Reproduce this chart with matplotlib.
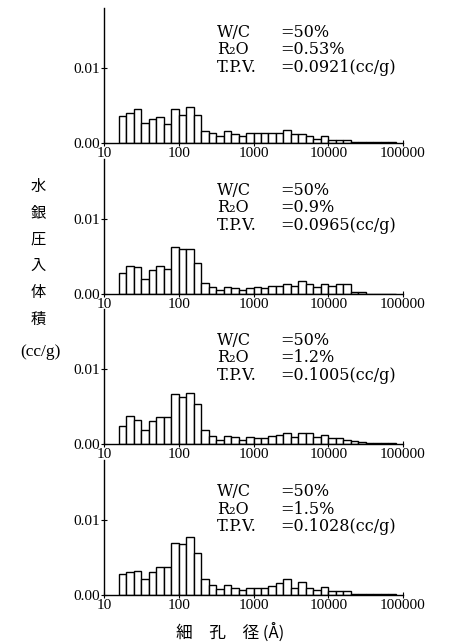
import numpy as np
import matplotlib.pyplot as plt

vol_r053 = [0.0036, 0.0040, 0.0045, 0.0027, 0.0032, 0.0035, 0.0026, 0.0046, 0.0038, 0.0048,
            0.0037, 0.0016, 0.0013, 0.0010, 0.0016, 0.0012, 0.0009, 0.0014, 0.0014, 0.0013,
            0.0013, 0.0013, 0.0018, 0.0012, 0.0012, 0.0009, 0.0006, 0.0009, 0.0004, 0.0004,
            0.0004, 0.0002, 0.0002, 0.0001, 0.0002, 0.0002, 0.0001]
vol_r09 = [0.0028, 0.0038, 0.0036, 0.0020, 0.0032, 0.0038, 0.0034, 0.0063, 0.0060, 0.0060,
           0.0041, 0.0015, 0.0009, 0.0005, 0.0009, 0.0008, 0.0005, 0.0008, 0.0009, 0.0008,
           0.0011, 0.0011, 0.0013, 0.0011, 0.0017, 0.0014, 0.0009, 0.0014, 0.0011, 0.0013,
           0.0013, 0.0003, 0.0003, 0.0, 0.0, 0.0, 0.0]
vol_r12 = [0.0024, 0.0037, 0.0032, 0.0019, 0.0031, 0.0036, 0.0036, 0.0067, 0.0063, 0.0068,
           0.0053, 0.0019, 0.0011, 0.0006, 0.0011, 0.0009, 0.0005, 0.0010, 0.0008, 0.0008,
           0.0011, 0.0012, 0.0015, 0.0010, 0.0015, 0.0015, 0.0010, 0.0012, 0.0008, 0.0008,
           0.0006, 0.0004, 0.0003, 0.0002, 0.0002, 0.0001, 0.0001]
vol_r15 = [0.0028, 0.0031, 0.0032, 0.0022, 0.0031, 0.0038, 0.0038, 0.0070, 0.0068, 0.0077,
           0.0056, 0.0021, 0.0013, 0.0008, 0.0013, 0.0009, 0.0007, 0.0010, 0.0010, 0.0010,
           0.0012, 0.0016, 0.0021, 0.0010, 0.0017, 0.0010, 0.0007, 0.0011, 0.0005, 0.0005,
           0.0005, 0.0002, 0.0002, 0.0001, 0.0002, 0.0001, 0.0001]

# bins are 0.1 decade wide, first one starts at 10^1.2 angstrom
edge_exponents = 1.2 + 0.1 * np.arange(len(vol_r053))

r2o_labels = ["0.53%", "0.9%", "1.2%", "1.5%"]
tpv_labels = ["0.0921(cc/g)", "0.0965(cc/g)", "0.1005(cc/g)", "0.1028(cc/g)"]
wc_label = "50%"

x_ticks = [10, 100, 1000, 10000, 100000]
x_tick_labels = ["10", "100", "1000", "10000", "100000"]

serif = ["Liberation Serif", "DejaVu Serif"]
note_font = ["DejaVu Serif"]
cjk = ["Noto Sans CJK JP", "DejaVu Sans"]

W, H = 453, 644
fig = plt.figure(figsize=(W / 100, H / 100), dpi=100)

series = [vol_r053, vol_r09, vol_r12, vol_r15]
baselines = [143, 294, 444, 595]
text_top = [0.82, 0.77, 0.77, 0.765]
ax_left, ax_right, ax_h = 104, 403, 135

lefts = 10 ** edge_exponents
widths = 10 ** (edge_exponents + 0.1) - lefts

for i, vals in enumerate(series):
    b = baselines[i]
    ax = fig.add_axes([ax_left / W, 1 - b / H, (ax_right - ax_left) / W, ax_h / H])
    ax.bar(lefts, vals, width=widths, align="edge", color="white",
           edgecolor="black", linewidth=1.0)
    ax.set_xscale("log")
    ax.set_xlim(10, 100000)
    ax.set_ylim(0, 0.018)
    for s in ["top", "right"]:
        ax.spines[s].set_visible(False)
    ax.spines["left"].set_linewidth(1.0)
    ax.spines["bottom"].set_linewidth(1.0)
    ax.set_xticks(x_ticks)
    ax.set_xticklabels(x_tick_labels)
    ax.xaxis.set_minor_locator(plt.NullLocator())
    ax.set_yticks([0, 0.01])
    ax.set_yticklabels(["0.00", "0.01"])
    ax.tick_params(axis="both", direction="inout", length=4, width=0.8,
                   labelsize=11, pad=1)
    for lab in ax.get_xticklabels() + ax.get_yticklabels():
        lab.set_family(serif)

    y0 = text_top[i]
    dy = 0.13
    rows = [("W/C", "=" + wc_label), ("R\u2082O", "=" + r2o_labels[i]),
            ("T.P.V.", "=" + tpv_labels[i])]
    for j, (k, v) in enumerate(rows):
        ax.text((217 - ax_left) / (ax_right - ax_left), y0 - j * dy, k,
                transform=ax.transAxes, family=note_font, fontsize=11.5, va="center")
        ax.text((280 - ax_left) / (ax_right - ax_left), y0 - j * dy, v,
                transform=ax.transAxes, family=note_font, fontsize=11.5, va="center")

# vertical y label
for j, ch in enumerate("水銀圧入体積"):
    fig.text(38 / W, 1 - (186 + j * 26.6) / H, ch, family=cjk, fontsize=11,
             ha="center", va="center")
fig.text(40 / W, 1 - 352 / H, "(cc/g)", family=serif, fontsize=12.5,
         ha="center", va="center")

fig.text(230 / W, 1 - 632 / H, "細\u3000孔\u3000径 (Å)", family=cjk, fontsize=12,
         ha="center", va="center")

fig.savefig("out.png", dpi=100)
